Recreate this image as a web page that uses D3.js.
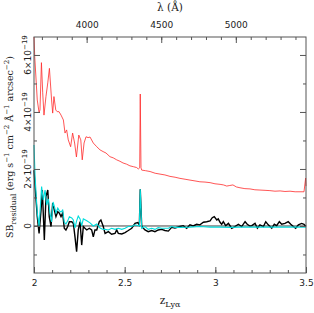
<!DOCTYPE html>
<html>
<head>
<meta charset="utf-8">
<script src="https://cdn.jsdelivr.net/npm/d3@7"></script>
<style>
  body { margin: 0; background: #fff; }
  svg { display: block; }
</style>
</head>
<body>
<div id="chart"></div>
<script>
// residual surface brightness vs z_Lya, values in units of 1e-19
let redZ = [2.000, 2.004, 2.018, 2.028, 2.033, 2.041, 2.048, 2.055, 2.066, 2.076, 2.085, 2.097, 2.103, 2.110, 2.120,
    2.128, 2.138, 2.149, 2.162, 2.171, 2.180, 2.189, 2.202, 2.213, 2.224, 2.234, 2.247, 2.258, 2.266, 2.276, 2.287,
    2.298, 2.309, 2.327, 2.346, 2.364, 2.381, 2.397, 2.419, 2.437, 2.456, 2.474, 2.491, 2.510, 2.529, 2.548, 2.566,
    2.575, 2.583, 2.586, 2.590, 2.594, 2.615, 2.640, 2.668, 2.695, 2.722, 2.750, 2.778, 2.805, 2.833, 2.860, 2.888,
    2.915, 2.943, 2.971, 2.998, 3.026, 3.045, 3.063, 3.080, 3.097, 3.116, 3.136, 3.163, 3.191, 3.218, 3.246, 3.274,
    3.301, 3.329, 3.357, 3.384, 3.412, 3.440, 3.467, 3.489, 3.498, 3.500]
let redV = [6.63, 5.94, 4.42, 3.98, 4.07, 5.73, 4.67, 3.89, 4.54, 5.02, 5.53, 4.42, 3.96, 4.54, 4.07,
    4.01, 4.01, 3.89, 3.72, 3.26, 3.37, 3.02, 2.78, 3.26, 2.91, 2.42, 3.19, 3.02, 2.32, 2.91, 3.13,
    3.10, 3.12, 2.91, 2.78, 2.67, 2.61, 2.56, 2.43, 2.39, 2.32, 2.27, 2.21, 2.17, 2.11, 2.08, 2.05,
    2.00, 2.04, 4.63, 2.04, 1.96, 1.94, 1.91, 1.85, 1.82, 1.79, 1.74, 1.71, 1.67, 1.64, 1.61, 1.58,
    1.55, 1.54, 1.52, 1.48, 1.46, 1.44, 1.40, 1.42, 1.44, 1.37, 1.34, 1.31, 1.30, 1.27, 1.26, 1.25,
    1.24, 1.22, 1.23, 1.21, 1.22, 1.20, 1.20, 1.20, 1.68, 1.40]

let blackZ = [2.000, 2.006, 2.018, 2.028, 2.039, 2.046, 2.057, 2.066, 2.076, 2.084, 2.094, 2.103, 2.112, 2.121, 2.131,
    2.140, 2.149, 2.158, 2.167, 2.176, 2.186, 2.195, 2.208, 2.217, 2.226, 2.235, 2.244, 2.254, 2.263, 2.272, 2.281,
    2.291, 2.305, 2.318, 2.327, 2.336, 2.346, 2.360, 2.369, 2.382, 2.392, 2.410, 2.428, 2.447, 2.456, 2.465, 2.484,
    2.502, 2.520, 2.539, 2.557, 2.572, 2.581, 2.586, 2.594, 2.612, 2.630, 2.649, 2.667, 2.685, 2.704, 2.722, 2.741,
    2.759, 2.777, 2.805, 2.823, 2.842, 2.860, 2.878, 2.897, 2.915, 2.934, 2.952, 2.971, 2.983, 2.994, 3.008, 3.016,
    3.026, 3.035, 3.044, 3.057, 3.072, 3.090, 3.108, 3.127, 3.145, 3.164, 3.176, 3.191, 3.201, 3.219, 3.232, 3.246,
    3.265, 3.278, 3.292, 3.311, 3.325, 3.338, 3.353, 3.366, 3.384, 3.402, 3.416, 3.430, 3.443, 3.458, 3.476, 3.489, 3.500]
let blackV = [1.96, 1.38, 0.33, -0.26, 0.56, 1.26, -0.49, 1.03, 1.26, 0.33, -0.02, 0.80, 0.56, 0.33, 0.50,
    0.45, 0.33, 0.45, -0.08, -0.14, -0.02, 0.15, 0.15, 0.09, -0.38, -0.90, -0.14, 0.15, -0.67, -0.02, -0.08,
    -0.14, -0.08, -0.14, -0.38, -0.14, -0.14, 0.15, 0.21, -0.02, -0.26, -0.20, -0.29, -0.26, -0.14, -0.26, -0.28,
    -0.23, -0.16, -0.08, 0.09, 0.12, 0.04, 1.29, -0.02, -0.14, -0.20, -0.16, -0.20, -0.14, -0.12, -0.16, -0.18,
    -0.05, -0.07, -0.02, 0.01, -0.08, 0.04, 0.00, 0.06, 0.04, 0.13, 0.15, 0.18, 0.29, 0.33, 0.21, 0.25,
    0.13, 0.06, 0.15, 0.01, 0.09, -0.08, -0.02, 0.06, -0.02, 0.15, 0.06, 0.00, 0.01, 0.09, -0.08, 0.04,
    -0.02, 0.15, 0.04, -0.08, 0.06, 0.01, 0.15, 0.06, 0.09, 0.15, 0.06, -0.02, -0.08, 0.04, 0.09, 0.06, -0.02]

let cyanZ = [2.000, 2.006, 2.018, 2.028, 2.042, 2.051, 2.061, 2.070, 2.079, 2.088, 2.097, 2.105, 2.113, 2.121, 2.131,
    2.140, 2.149, 2.158, 2.167, 2.176, 2.186, 2.195, 2.208, 2.217, 2.226, 2.235, 2.244, 2.254, 2.263, 2.272, 2.291,
    2.309, 2.327, 2.346, 2.364, 2.382, 2.392, 2.410, 2.428, 2.447, 2.465, 2.484, 2.502, 2.520, 2.539, 2.557, 2.581,
    2.586, 2.594, 2.612, 2.630, 2.649, 2.667, 2.685, 2.704, 2.741, 2.759, 2.777, 2.805, 2.860, 2.915, 2.971, 3.026,
    3.081, 3.136, 3.191, 3.246, 3.301, 3.357, 3.412, 3.467, 3.500]
let cyanV = [2.84, 1.73, 0.46, -0.02, 1.38, 0.91, 1.26, 0.74, 0.95, 0.46, 0.14, 0.84, 0.67, 0.46, 0.63,
    0.53, 0.49, 0.56, 0.14, 0.07, 0.18, 0.32, 0.28, 0.21, -0.07, 0.18, 0.35, 0.25, 0.00, 0.25, 0.18,
    0.11, 0.00, 0.07, -0.07, -0.12, -0.12, -0.14, -0.08, -0.12, -0.08, -0.12, -0.08, -0.02, -0.02, 0.04, 0.00,
    1.29, -0.08, -0.02, -0.12, -0.08, -0.12, -0.06, -0.08, -0.08, -0.02, -0.05, -0.05, -0.04, -0.02, -0.04, -0.04,
    -0.05, -0.04, -0.04, -0.04, -0.04, -0.04, -0.04, -0.04, -0.04]

// axis ticks
let zMajor = [2, 2.5, 3, 3.5]
let zMinor = d3.range(2.1, 3.45, 0.1)
let lamMajor = [4000, 4500, 5000]
let lamMinor = d3.range(3700, 5500, 100)
let yMajor = [0, 2, 4, 6]
let yMinor = [-1, 1, 3, 5]
let yLabels = ['0', '2\u00d710', '4\u00d710', '6\u00d710']

let width = 314, height = 313
let plotL = 34, plotR = 306, plotT = 37, plotB = 273

let svg = d3.select('#chart').append('svg')
    .attr('width', width)
    .attr('height', height)

let x = d3.scaleLinear().domain([2, 3.5]).range([plotL, plotR])
let lam = d3.scaleLinear().domain([1215.67 * 3, 1215.67 * 4.5]).range([plotL, plotR])
let y = d3.scaleLinear().domain([-1.65, 6.63]).range([plotB, plotT])

let boxColor = '#555'
let textColor = '#222'
let sans = 'DejaVu Sans, Verdana, sans-serif'
let serif = 'DejaVu Serif, Georgia, serif'

// zero line
svg.append('line')
    .attr('x1', plotL).attr('x2', plotR)
    .attr('y1', y(0)).attr('y2', y(0))
    .attr('stroke', '#444')
    .attr('stroke-width', 1)

let line = d3.line().x(d => x(d[0])).y(d => y(d[1]))

svg.append('path')
    .datum(d3.zip(redZ, redV))
    .attr('d', line)
    .attr('fill', 'none')
    .attr('stroke', '#ff2a2a')
    .attr('stroke-width', 0.8)

svg.append('path')
    .datum(d3.zip(blackZ, blackV))
    .attr('d', line)
    .attr('fill', 'none')
    .attr('stroke', '#000')
    .attr('stroke-width', 1.4)

svg.append('path')
    .datum(d3.zip(cyanZ, cyanV))
    .attr('d', line)
    .attr('fill', 'none')
    .attr('stroke', '#00dcdc')
    .attr('stroke-width', 1.1)

// axes, ticks point inward
function styleAxis(g) {
    g.select('.domain').remove()
    g.selectAll('line').attr('stroke', boxColor)
    g.selectAll('text')
        .attr('fill', textColor)
        .style('font-family', sans)
        .style('font-size', '9px')
}

svg.append('g').attr('transform', `translate(0,${plotB})`)
    .call(d3.axisBottom(x).tickValues(zMinor).tickSize(-3).tickFormat(''))
    .call(styleAxis)
svg.append('g').attr('transform', `translate(0,${plotB})`)
    .call(d3.axisBottom(x).tickValues(zMajor).tickSize(-6).tickPadding(7).tickFormat(d3.format('')))
    .call(styleAxis)

svg.append('g').attr('transform', `translate(0,${plotT})`)
    .call(d3.axisTop(lam).tickValues(lamMinor).tickSize(-3).tickFormat(''))
    .call(styleAxis)
svg.append('g').attr('transform', `translate(0,${plotT})`)
    .call(d3.axisTop(lam).tickValues(lamMajor).tickSize(-6).tickPadding(9).tickFormat(d3.format('d')))
    .call(styleAxis)

svg.append('g').attr('transform', `translate(${plotL},0)`)
    .call(d3.axisLeft(y).tickValues(yMinor).tickSize(-3).tickFormat(''))
    .call(styleAxis)
svg.append('g').attr('transform', `translate(${plotL},0)`)
    .call(d3.axisLeft(y).tickValues(yMajor).tickSize(-6).tickFormat(''))
    .call(styleAxis)
svg.append('g').attr('transform', `translate(${plotR},0)`)
    .call(d3.axisRight(y).tickValues(yMinor).tickSize(-3).tickFormat(''))
    .call(styleAxis)
svg.append('g').attr('transform', `translate(${plotR},0)`)
    .call(d3.axisRight(y).tickValues(yMajor).tickSize(-6).tickFormat(''))
    .call(styleAxis)

// frame
svg.append('rect')
    .attr('x', plotL).attr('y', plotT)
    .attr('width', plotR - plotL).attr('height', plotB - plotT)
    .attr('fill', 'none')
    .attr('stroke', boxColor)
    .attr('stroke-width', 1)

// rotated y tick labels with exponent
yMajor.forEach((v, i) => {
    let t = svg.append('text')
        .attr('transform', `translate(31,${y(v)}) rotate(-90)`)
        .attr('text-anchor', 'middle')
        .attr('fill', textColor)
        .style('font-family', sans)
        .style('font-size', '9px')
    t.append('tspan').text(yLabels[i])
    if (v !== 0) {
        t.append('tspan').attr('dy', -4).style('font-size', '7px').text('\u221219')
    }
})

// axis titles
svg.append('text')
    .attr('x', (plotL + plotR) / 2).attr('y', 11)
    .attr('text-anchor', 'middle')
    .attr('fill', textColor)
    .style('font-family', serif)
    .style('font-size', '10.5px')
    .text('\u03bb (\u00c5)')

let zt = svg.append('text')
    .attr('x', (plotL + plotR) / 2).attr('y', 304)
    .attr('text-anchor', 'middle')
    .attr('fill', textColor)
    .style('font-family', serif)
    .style('font-size', '10.5px')
zt.append('tspan').text('z')
zt.append('tspan').attr('dy', 3).style('font-size', '8px').text('Ly\u03b1')

let yt = svg.append('text')
    .attr('transform', `translate(13,147) rotate(-90)`)
    .attr('text-anchor', 'middle')
    .attr('fill', textColor)
    .style('font-family', serif)
    .style('font-size', '9.5px')
yt.append('tspan').text('SB')
yt.append('tspan').attr('dy', 3).style('font-size', '7.5px').text('residual')
yt.append('tspan').attr('dy', -3).text(' (erg s')
yt.append('tspan').attr('dy', -4).style('font-size', '7px').text('\u22121')
yt.append('tspan').attr('dy', 4).text(' cm')
yt.append('tspan').attr('dy', -4).style('font-size', '7px').text('\u22122')
yt.append('tspan').attr('dy', 4).text(' \u00c5')
yt.append('tspan').attr('dy', -4).style('font-size', '7px').text('\u22121')
yt.append('tspan').attr('dy', 4).text(' arcsec')
yt.append('tspan').attr('dy', -4).style('font-size', '7px').text('\u22122')
yt.append('tspan').attr('dy', 4).text(')')
</script>
</body>
</html>
